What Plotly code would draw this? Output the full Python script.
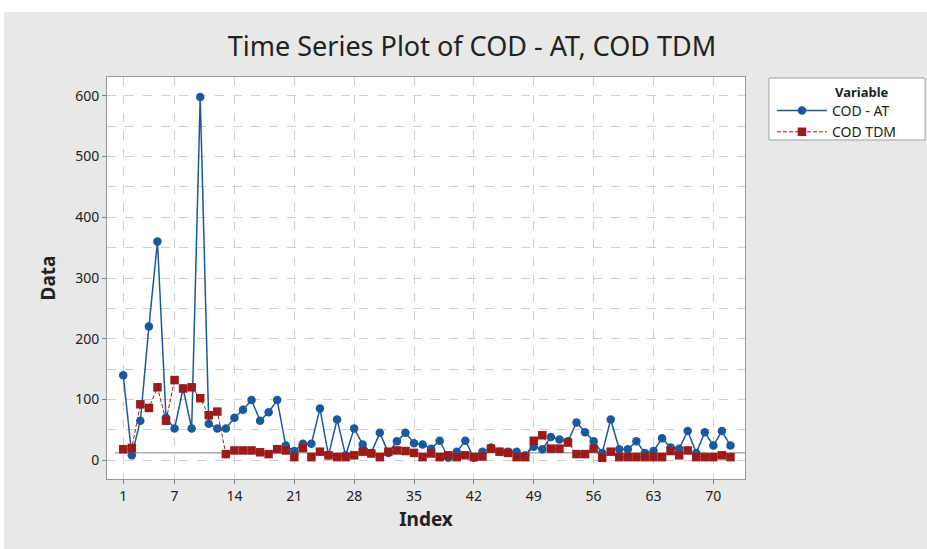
import plotly.graph_objects as go

index = list(range(1, 73))
cod_at = [140, 8, 65, 220, 360, 70, 52, 118, 52, 598,
          60, 52, 52, 70, 83, 99, 65, 79, 99, 24,
          15, 27, 27, 85, 8, 67, 8, 52, 26, 12,
          45, 12, 31, 45, 28, 26, 19, 32, 4, 14,
          32, 4, 14, 21, 14, 14, 14, 8, 22, 18,
          38, 34, 31, 62, 46, 31, 12, 67, 18, 18,
          31, 12, 15, 36, 21, 19, 48, 12, 46, 24,
          48, 24]
cod_tdm = [18, 20, 92, 86, 120, 65, 132, 118, 120, 102,
           74, 80, 10, 16, 16, 16, 13, 10, 18, 16,
           5, 20, 5, 14, 8, 5, 5, 8, 14, 11,
           5, 14, 16, 15, 12, 5, 11, 5, 8, 5,
           8, 5, 6, 19, 14, 12, 5, 5, 32, 41,
           19, 19, 29, 10, 10, 19, 4, 14, 5, 5,
           5, 5, 5, 5, 15, 8, 16, 5, 5, 5,
           8, 5]
x_ticks = [1, 7, 14, 21, 28, 35, 42, 49, 56, 63, 70]
y_ticks = [0, 100, 200, 300, 400, 500, 600]
ref_level = 12

BLUE = "#1a5a9c"
RED = "#9c1a1a"
GRID = "#cfcfcf"

fig = go.Figure()
fig.add_trace(go.Scatter(
    x=index, y=cod_at, name="COD - AT", mode="lines+markers",
    line=dict(color=BLUE, width=1.5),
    marker=dict(symbol="circle", size=8.5, color=BLUE),
))
fig.add_trace(go.Scatter(
    x=index, y=cod_tdm, name="COD TDM", mode="lines+markers",
    line=dict(color=RED, width=1, dash="4px,2px"),
    marker=dict(symbol="square", size=8.5, color=RED),
))

x_lo, x_hi = -0.9, 73.7
fig.add_shape(type="line", xref="x", yref="y", x0=0, x1=x_hi,
              y0=ref_level, y1=ref_level, line=dict(color="#808080", width=1),
              layer="below")

# white strips at top and left of the picture
fig.add_shape(type="rect", xref="paper", yref="paper", x0=-0.2, x1=1.3,
              y0=1.1617, y1=1.2, fillcolor="white", line=dict(width=0), layer="below")
fig.add_shape(type="rect", xref="paper", yref="paper", x0=-0.2, x1=-0.1614,
              y0=-0.2, y1=1.2, fillcolor="white", line=dict(width=0), layer="below")
# legend frame
fig.add_shape(type="rect", xref="paper", yref="paper", x0=1.0376, x1=1.2821,
              y0=0.8433, y1=0.9975, fillcolor="white",
              line=dict(color="#a0a0a0", width=1), layer="below")
fig.add_annotation(text="<b>Variable</b>", xref="paper", yref="paper",
                   x=(862 - 107) / 638, y=(479 - 92) / 402, showarrow=False,
                   xanchor="center", yanchor="middle",
                   font=dict(size=13, color="#222222"))

font_family = "Noto Sans, Open Sans, sans-serif"
fig.update_layout(
    width=927, height=549,
    margin=dict(l=107, r=182, t=77, b=70),
    paper_bgcolor="#e8e8e8",
    plot_bgcolor="white",
    font=dict(family=font_family, color="#333333", size=13),
    title=dict(text="Time Series Plot of COD - AT, COD TDM", x=472 / 927, xref="container",
               xanchor="center", y=1 - 47 / 549, yref="container", yanchor="middle",
               font=dict(size=27, color="#222222")),
    showlegend=True,
    legend=dict(
        x=(772 - 107) / 638, y=(479 - 95) / 402, xanchor="left", yanchor="top",
        bgcolor="rgba(0,0,0,0)", borderwidth=0,
        font=dict(size=14, color="#222222"),
        itemwidth=50, tracegroupgap=0,
    ),
)
fig.update_xaxes(
    range=[x_lo, x_hi], tickvals=x_ticks, ticktext=[str(t) for t in x_ticks],
    showgrid=True, gridcolor=GRID, griddash="dash", gridwidth=1,
    zeroline=False, showline=True, linecolor="#9a9a9a", mirror=True,
    ticks="outside", ticklen=4, tickcolor="#808080",
    title=dict(text="<b>Index</b>", font=dict(size=19, color="#222222"), standoff=8),
    tickfont=dict(size=14, color="#222222"),
)
fig.update_yaxes(
    range=[-31, 631], tickvals=y_ticks,
    showgrid=True, gridcolor=GRID, griddash="dash", gridwidth=1,
    minor=dict(dtick=50, tick0=0, showgrid=True, gridcolor=GRID, griddash="dash"),
    zeroline=False, showline=True, linecolor="#9a9a9a", mirror=True,
    ticks="outside", ticklen=4, tickcolor="#808080",
    title=dict(text="<b>Data</b>", font=dict(size=19, color="#222222"), standoff=14),
    tickfont=dict(size=14, color="#222222"),
)

fig.write_html("out.html")
